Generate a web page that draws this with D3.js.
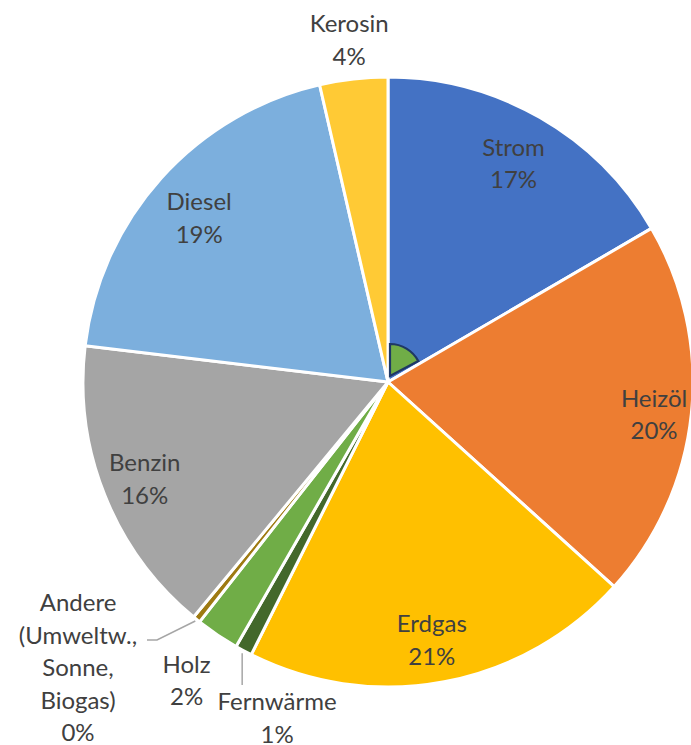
<!DOCTYPE html>
<html><head><meta charset="utf-8">
<script src="https://cdn.jsdelivr.net/npm/d3@7"></script>
<style>body{margin:0;background:#fff;}svg{display:block;}</style>
</head><body>
<svg id="c" width="691" height="745"></svg>
<script>
const categories = ["Strom","Heizöl","Erdgas","Fernwärme","Holz","Andere (Umweltw., Sonne, Biogas)","Benzin","Diesel","Kerosin"];
const values = [16.6, 20.1, 20.7, 0.9, 2.3, 0.4, 15.9, 19.5, 3.6];
const percentLabels = ["17%","20%","21%","1%","2%","0%","16%","19%","4%"];
const nameLines = [["Strom"],["Heizöl"],["Erdgas"],["Fernwärme"],["Holz"],["Andere","(Umweltw.,","Sonne,","Biogas)"],["Benzin"],["Diesel"],["Kerosin"]];
const colors = ["#4472C4","#ED7D31","#FFC000","#43682B","#70AD47","#9E7A12","#A5A5A5","#7CAFDD","#FFCA35"];

const cx = 388, cy = 382, R = 305;
const svg = d3.select("#c");
const g = svg.append("g").attr("transform", `translate(${cx},${cy})`);
const pie = d3.pie().sort(null).value(d => d);
const arcs = pie(values);
const arc = d3.arc().innerRadius(0).outerRadius(R);

g.selectAll("path.slice").data(arcs).enter().append("path")
  .attr("class","slice")
  .attr("d", arc)
  .attr("fill", (d,i) => colors[i])
  .attr("stroke", "#fff").attr("stroke-width", 3).attr("stroke-linejoin","round");

// small highlighted wedge near center
const smallArc = d3.arc().innerRadius(0).outerRadius(32).startAngle(0).endAngle(arcs[0].endAngle + 0.04);
g.append("path").attr("d", smallArc()).attr("transform","translate(2,-6)")
  .attr("fill","#70AD47").attr("stroke","#1F3864").attr("stroke-width",2.2);

// label layout: [radius, angle offset (deg), dx, dy]
const layout = [
  [252, 0, 0, 0],
  [268, 1, 0, 0],
  [262, 1, 0, 0],
  [354, -10, 0, 0],
  [360, 0, 0, 0],
  [420, 0, 0, 0],
  [262, 0, 0, 0],
  [250, -1, 0, 0],
  [344, 0, 0, 0]
];
const lineH = 32.5;
const font = "Lato, 'Open Sans', sans-serif";
arcs.forEach((d,i) => {
  const mid = (d.startAngle + d.endAngle)/2 + layout[i][1]*Math.PI/180;
  const r = layout[i][0];
  let x = r*Math.sin(mid) + layout[i][2];
  let y = -r*Math.cos(mid) + layout[i][3];
  if (i === 5) { x = -310; y = 286; }
  const lines = nameLines[i].concat([percentLabels[i]]);
  const t = g.append("text").attr("text-anchor","middle")
    .attr("font-family", font).attr("font-size", 24).attr("fill","#404040");
  const y0 = y - (lines.length-1)*lineH/2;
  lines.forEach((l,k) => {
    t.append("tspan").attr("x", x).attr("y", y0 + k*lineH).attr("dy","0.35em").text(l);
  });
});

// leader lines
const la = arcs[5], lf = arcs[3];
const aMid = (la.startAngle+la.endAngle)/2;
const ax = (R+2)*Math.sin(aMid), ay = -(R+2)*Math.cos(aMid);
g.append("polyline").attr("points", `${ax},${ay} ${-231},${258} ${-241},${258}`)
  .attr("fill","none").attr("stroke","#A6A6A6").attr("stroke-width",1.5);
const fMid = (lf.startAngle+lf.endAngle)/2;
const fx = (R+3)*Math.sin(fMid), fy = -(R+3)*Math.cos(fMid);
g.append("line").attr("x1", fx).attr("y1", fy).attr("x2", fx).attr("y2", 303)
  .attr("stroke","#A6A6A6").attr("stroke-width",1.5);
</script>
</body></html>
